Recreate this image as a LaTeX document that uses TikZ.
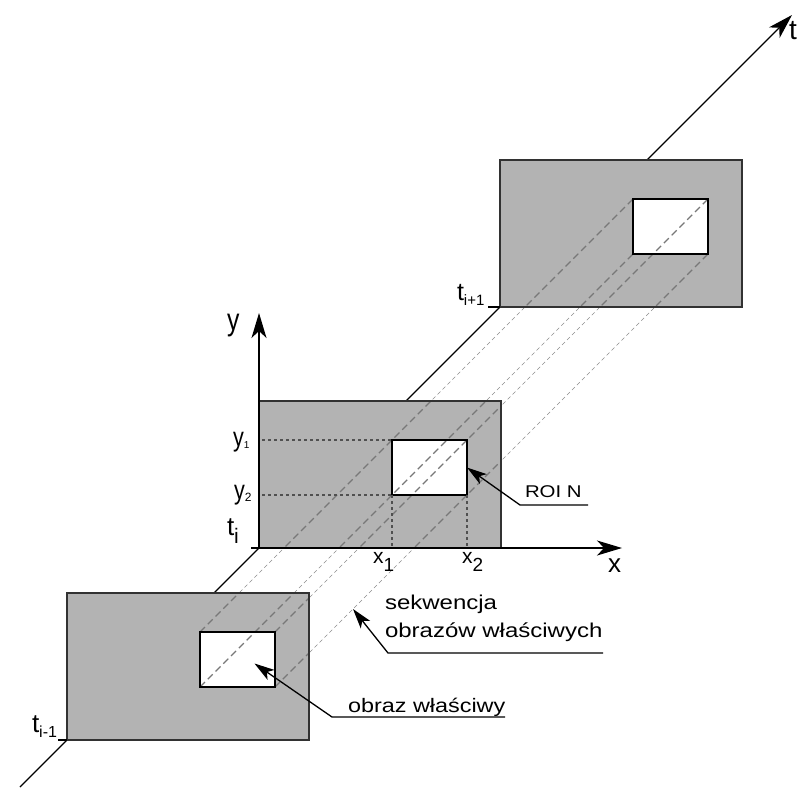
\documentclass[tikz,border=0pt]{standalone}
\usepackage{fontspec}
\setmainfont{Liberation Sans}
\newfontfamily\widefont{Liberation Sans}[FakeStretch=1.2]
\newfontfamily\narrowfont{Liberation Sans}[FakeStretch=0.8]
\usetikzlibrary{calc,arrows.meta,backgrounds}
\definecolor{frgray}{RGB}{179,179,179}
\definecolor{frborder}{RGB}{50,50,50}
\definecolor{tubethin}{RGB}{140,140,140}
\definecolor{tubethick}{RGB}{120,120,120}
\definecolor{dotgray}{RGB}{80,80,80}
\tikzset{
  frame/.style={draw=frborder, fill=frgray, line width=1.3pt, minimum width=242pt, minimum height=147pt, inner sep=0pt, outer sep=0pt, anchor=south west},
  roi/.style={draw=black, fill=white, line width=1.8pt, minimum width=75pt, minimum height=55pt, inner sep=0pt, outer sep=0pt, anchor=south west},
  frameline/.style={draw=frborder, line width=1.3pt},
  roiline/.style={draw=black, line width=1.8pt},
  tubeout/.style={draw=tubethin, line width=0.6pt, dash pattern=on 4pt off 3pt},
  tubein/.style={draw=tubethick, line width=1.2pt, dash pattern=on 7pt off 4pt},
  dotline/.style={draw=dotgray, line width=1.1pt, dash pattern=on 3pt off 3pt},
  axisline/.style={draw=black, line width=1.2pt},
  axisarrow/.style={axisline, -{Stealth[length=25pt,width=15pt,inset=7pt]}},
  ann/.style={draw=black, line width=1.3pt, -{Stealth[length=20pt,width=12pt,inset=5pt]}},
  lab/.style={inner sep=0pt, outer sep=0pt, anchor=base west},
}
\begin{document}
\begin{tikzpicture}[x=1pt,y=-1pt]
\useasboundingbox (0,0) rectangle (802,789);
% frames
\node[frame] (F2) at (259,548) {};
\node[frame] (F1) at (67,740) {};
\node[frame] (F3) at (500,307) {};
% regions of interest
\node[roi] (R1) at ($(F1.south west)+(133,-53)$) {};
\node[roi] (R2) at ($(F2.south west)+(133,-53)$) {};
\node[roi] (R3) at ($(F3.south west)+(133,-53)$) {};
% t axis and thin tube lines behind everything
\coordinate (tstart) at (20,787);
\coordinate (tend) at (792,15);
\begin{pgfonlayer}{background}
  \draw[axisarrow] (tstart) -- (tend);
  \draw[tubeout] (R1.north west) -- (R3.north west);
  \draw[tubeout] (R1.north east) -- (R3.north east);
  \draw[tubeout] (R1.south west) -- (R3.south west);
  \draw[tubeout] (R1.south east) -- (R3.south east);
\end{pgfonlayer}
% thick tube lines inside the frames
\foreach \F in {F1,F2,F3} {
  \begin{scope}
    \clip (\F.south west) rectangle (\F.north east);
    \draw[tubein] (R1.north west) -- (R3.north west);
    \draw[tubein] (R1.north east) -- (R3.north east);
    \draw[tubein] (R1.south west) -- (R3.south west);
    \draw[tubein] (R1.south east) -- (R3.south east);
  \end{scope}
}
% borders on top
\foreach \F in {F1,F2,F3} {\draw[frameline] (\F.south west) rectangle (\F.north east);}
\foreach \R in {R1,R2,R3} {\draw[roiline] (\R.south west) rectangle (\R.north east);}
% dotted guides
\draw[dotline] (262,440) -- (R2.north west);
\draw[dotline] (262,495) -- (R2.south west);
\draw[dotline] (R2.south west) -- (R2.south west |- F2.south);
\draw[dotline] (R2.south east) -- (R2.south east |- F2.south);
% x and y axes
\coordinate (yend) at (259,313);
\coordinate (xstart) at (251,548);
\coordinate (xend) at (622,548);
\draw[axisarrow] (F2.south west) -- (yend);
\draw[axisarrow] (xstart) -- (xend);
% ticks for time labels
\draw[axisline] (F3.south west) -- ++(-12,0);
\draw[axisline] (F1.south west) -- ++(-9,0);
% axis labels
\node[lab] (ylab) at (227,330) {\narrowfont\fontsize{31}{31}\selectfont y};
\node[lab] (xlab) at (608,572) {\fontsize{26}{26}\selectfont x};
\node[lab] (tlab) at (789,40) {\fontsize{28}{28}\selectfont t};
\node[lab] (ti) at (227,535) {\fontsize{26}{26}\selectfont t\raisebox{-8pt}{\fontsize{21}{21}\selectfont i}};
\node[lab] (tip1) at (457,300) {\fontsize{25}{25}\selectfont t\raisebox{-5pt}{\fontsize{15}{15}\selectfont i+1}};
\node[lab] (tim1) at (32,732) {\fontsize{26}{26}\selectfont t\raisebox{-5pt}{\fontsize{16}{16}\selectfont i-1}};
\node[lab] (y1) at (233,446) {\narrowfont\fontsize{27}{27}\selectfont y\raisebox{-2pt}{\normalfont\fontsize{10}{10}\selectfont 1}};
\node[lab] (y2) at (234,499) {\narrowfont\fontsize{27}{27}\selectfont y\raisebox{-2pt}{\normalfont\fontsize{12}{12}\selectfont 2}};
\node[lab] (x1) at (373,563) {\fontsize{21}{21}\selectfont x\raisebox{-8pt}{\fontsize{19}{19}\selectfont 1}};
\node[lab] (x2) at (462,563) {\fontsize{21}{21}\selectfont x\raisebox{-8pt}{\fontsize{19}{19}\selectfont 2}};
% annotations
\node[lab] (roin) at (525,497) {\widefont\fontsize{17}{17}\selectfont ROI N};
\coordinate (roiA) at (588,505);
\coordinate (roiB) at (520,505);
\draw[ann] (roiA) -- (roiB) -- (R2.east);
\node[lab] (seq1) at (385,609) {\widefont\fontsize{20}{20}\selectfont sekwencja};
\node[lab] (seq2) at (385,637) {\widefont\fontsize{20}{20}\selectfont obrazów właściwych};
\coordinate (seqA) at (603,653);
\coordinate (seqB) at (388,653);
\draw[ann] (seqA) -- (seqB) -- ($(R1.south east)+(78,-78)$);
\node[lab] (obr) at (348,712) {\widefont\fontsize{19.5}{19.5}\selectfont obraz właściwy};
\coordinate (obrA) at (505,717);
\coordinate (obrB) at (332,717);
\draw[ann] (obrA) -- (obrB) -- ($(R1.center)+(17,4)$);
\end{tikzpicture}
\end{document}
